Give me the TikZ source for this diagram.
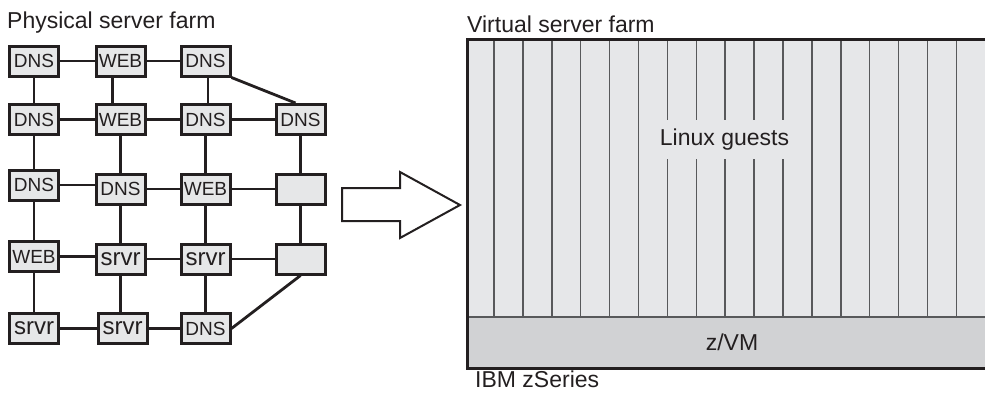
\documentclass[tikz,border=0pt]{standalone}
\usepackage{fontspec}
\setmainfont{Liberation Sans}
\usetikzlibrary{calc}
\definecolor{ink}{HTML}{231F20}
\definecolor{boxfill}{HTML}{E6E7E8}
\definecolor{guestfill}{HTML}{E6E7E9}
\definecolor{vmfill}{HTML}{D1D2D4}
\definecolor{gline}{HTML}{58595B}
\begin{document}
\begin{tikzpicture}[x=1pt,y=-1pt,
  srv/.style={draw=ink,line width=3pt,fill=boxfill,minimum width=49pt,minimum height=30pt,inner sep=0pt,text=ink,font=\fontsize{19}{19}\selectfont},
  big/.style={font=\fontsize{24}{24}\selectfont},
  link/.style={draw=ink,line width=2.8pt},
  title/.style={anchor=base west,inner sep=0pt,text=ink,font=\fontsize{23}{23}\selectfont},
  label/.style={text=ink,font=\fontsize{23}{23}\selectfont}]
\useasboundingbox (0,0) rectangle (985,392);

% ---------- physical farm ----------
\node[title] (pt) at (7,28) {Physical server farm};

\node[srv] (a1) at (34,61) {DNS};
\node[srv] (a2) at (120.5,61) {WEB};
\node[srv] (a3) at (205.5,61) {DNS};
\node[srv] (b1) at (34,119.5) {DNS};
\node[srv] (b2) at (120.5,119.5) {WEB};
\node[srv] (b3) at (205.5,119.5) {DNS};
\node[srv] (b4) at (300.5,119.5) {DNS};
\node[srv] (c1) at (34,185) {DNS};
\node[srv] (c2) at (120.5,189) {DNS};
\node[srv] (c3) at (205.5,189) {WEB};
\node[srv] (c4) at (300.5,189) {};
\node[srv] (d1) at (34,256.5) {WEB};
\node[srv,big] (d2) at (120.5,259) {srvr};
\node[srv,big] (d3) at (205.5,259) {srvr};
\node[srv] (d4) at (300.5,259) {};
\node[srv,big] (e1) at (34,328.5) {srvr};
\node[srv,big] (e2) at (122.5,328.5) {srvr};
\node[srv] (e3) at (205.5,328.5) {DNS};

% horizontal links
\draw[link] (a1) -- (a2);
\draw[link] (a2) -- (a3);
\draw[link] (b1) -- (b2);
\draw[link] (b2) -- (b3);
\draw[link] (b3) -- (b4);
\draw[link] (c1.east) -- (c1.east -| c2.west);
\draw[link] (c2) -- (c3);
\draw[link] (c3) -- (c4);
\draw[link] (d1.east) -- (d1.east -| d2.west);
\draw[link] (d2) -- (d3);
\draw[link] (d3) -- (d4);
\draw[link] (e1) -- (e2);
\draw[link] (e2) -- (e3);
% vertical links
\draw[link] (a1) -- (b1);
\draw[link] ([xshift=-8pt]a2.south) -- ([xshift=-8pt]b2.north);
\draw[link] ([xshift=2.5pt]a3.south) -- ([xshift=2.5pt]b3.north);
\draw[link] (b1) -- (c1);
\draw[link] (b2) -- (c2);
\draw[link] (b3) -- (c3);
\draw[link] (b4) -- (c4);
\draw[link] (c1) -- (d1);
\draw[link] (c2) -- (d2);
\draw[link] (c3) -- (d3);
\draw[link] (c4) -- (d4);
\draw[link] (d1) -- (e1);
\draw[link] (d2.south) -- (d2.south |- e2.north);
\draw[link] (d3) -- (e3);
% diagonals
\draw[link] (a3.south east) -- ([xshift=-5pt]b4.north);
\draw[link] (d4.south) -- (e3.east);

% ---------- block arrow ----------
\draw[ink,line width=2pt,fill=white,line join=miter]
  (342,188) -- (400,188) -- (400,172) -- (460,205) -- (400,238) -- (400,221) -- (342,221) -- cycle;

% ---------- virtual farm ----------
\node[title] (vt) at (467,32) {Virtual server farm};
\begin{scope}
  \clip (0,0) rectangle (985,392);
  \fill[guestfill] (467,39) rectangle (997,317);
  \fill[vmfill] (467,317) rectangle (997,368);
  \foreach \i in {0,...,16}
    \draw[gline,line width=1.5pt] ({494+28.9*\i},39) -- ({494+28.9*\i},317);
  \draw[gline,line width=1.5pt] (467,317) -- (997,317);
  \draw[ink,line width=3pt,line join=miter] (997,39) -- (467,39) -- (467,368) -- (997,368);
\end{scope}
\node[label,fill=guestfill,inner xsep=4pt,inner ysep=0pt,minimum height=39pt] (lg) at (724.5,139.5) {Linux guests};
\node[label] (zvm) at (732,342.5) {z/VM};
\node[title] (ibm) at (475,387) {IBM zSeries};
\end{tikzpicture}
\end{document}
